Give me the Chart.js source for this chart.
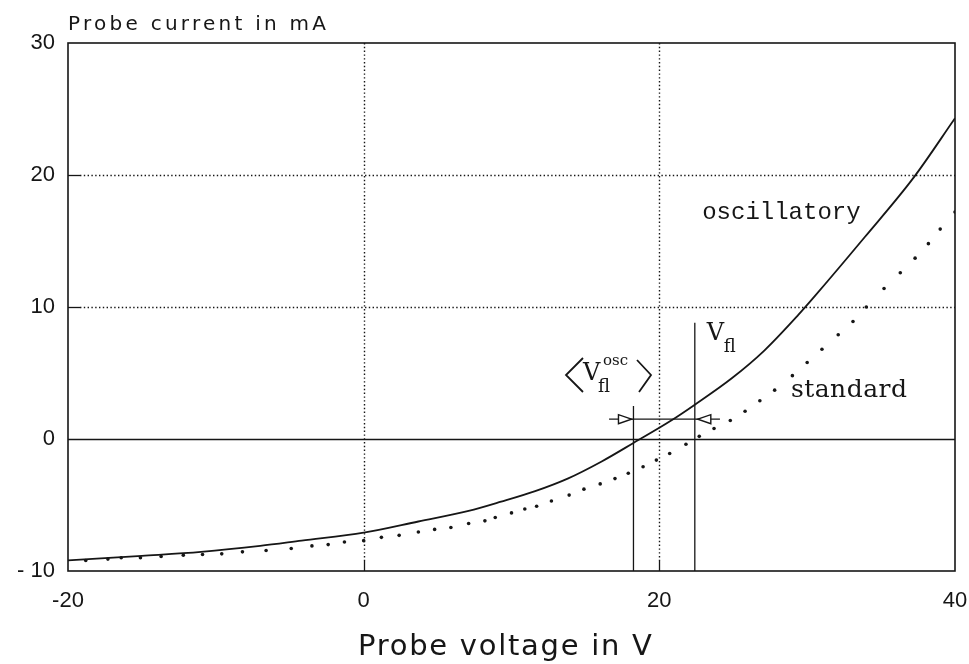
<!DOCTYPE html>
<html>
<head>
<meta charset="utf-8">
<script src="https://cdn.jsdelivr.net/npm/chart.js@4.4.1/dist/chart.umd.min.js"></script>
<style>
  html, body { margin: 0; padding: 0; background: #fff; }
  #wrap { width: 969px; height: 664px; position: relative; }
</style>
</head>
<body>
<div id="wrap"><canvas id="probeChart"></canvas></div>
<script>
// axis ticks
const xTicks = [-20, 0, 20, 40];
const xTickLabels = ['-20', '0', '20', '40'];
const yTicks = [-10, 0, 10, 20, 30];
const yTickLabels = ['- 10', '0', '10', '20', '30'];

// oscillatory probe characteristic (solid)
const oscX = [-20, -15, -11, -7, -4.2, 0, 3.7, 7.1, 9.3, 11.6, 13.8, 16.1, 18.25, 20.8, 22.4, 24.9, 27.1, 29.4, 30.5, 33.9, 37.2, 40];
const oscY = [-9.2, -8.85, -8.55, -8.1, -7.7, -7.1, -6.25, -5.45, -4.75, -3.95, -3.0, -1.7, -0.3, 1.4, 2.6, 4.6, 6.7, 9.4, 10.8, 15.3, 19.8, 24.3];

// standard probe characteristic (dotted)
const stdX = [-18.8, -17.3, -16.4, -15.1, -13.7, -12.2, -10.9, -9.6, -8.2, -6.6, -4.9, -3.5, -2.4, -1.3, 0.0, 1.2, 2.4, 3.7, 4.8, 5.9, 7.1, 8.2, 8.9, 10.0, 10.9, 11.7, 12.7, 13.9, 14.9, 16.0, 17.0, 17.9, 18.9, 19.8, 20.7, 21.8, 22.7, 23.7, 24.8, 25.8, 26.8, 27.8, 29.0, 30.0, 31.0, 32.1, 33.1, 34.0, 35.2, 36.3, 37.3, 38.2, 39.0, 40.0];
const stdY = [-9.2, -9.1, -9.0, -9.0, -8.9, -8.8, -8.75, -8.7, -8.55, -8.45, -8.3, -8.1, -8.0, -7.8, -7.7, -7.45, -7.3, -7.05, -6.85, -6.7, -6.4, -6.2, -5.95, -5.6, -5.3, -5.1, -4.7, -4.25, -3.8, -3.4, -3.0, -2.6, -2.1, -1.6, -1.1, -0.4, 0.2, 0.8, 1.4, 2.1, 2.9, 3.7, 4.8, 5.8, 6.8, 7.9, 8.9, 10.0, 11.4, 12.6, 13.7, 14.8, 15.9, 17.2];

// floating potentials and the arrow between them
const vflOsc = 18.25;
const vflOscTop = 2.5;
const vfl = 22.4;
const vflTop = 8.8;
const arrowY = 1.5;
const arrowFrom = 16.6;
const arrowTo = 24.1;

const ink = '#161616';
const sansFont = '"Liberation Sans", Arial, sans-serif';
const titleFont = '"DejaVu Sans", "Liberation Sans", sans-serif';

function toPoints(xs, ys) {
    return xs.map((x, i) => ({ x: x, y: ys[i] }));
}

// draw text stretched to a given width with letter spacing
function spacedText(ctx, text, x, y, width) {
    ctx.letterSpacing = '0px';
    const w = ctx.measureText(text).width;
    const gap = (width - w) / (text.length - 1);
    ctx.letterSpacing = gap.toFixed(2) + 'px';
    ctx.fillText(text, x, y);
    ctx.letterSpacing = '0px';
}

function arrowHead(ctx, tipX, y, dir) {
    // open triangle, dir = 1 points right, -1 points left
    const len = 13, half = 4.5;
    ctx.beginPath();
    ctx.moveTo(tipX, y);
    ctx.lineTo(tipX - dir * len, y - half);
    ctx.lineTo(tipX - dir * len, y + half);
    ctx.closePath();
    ctx.fillStyle = '#fff';
    ctx.fill();
    ctx.stroke();
}

const paperPlugin = {
    id: 'paper',
    beforeDatasetsDraw(chart) {
        const { ctx, chartArea: a, scales: { x, y } } = chart;
        ctx.save();
        ctx.strokeStyle = ink;
        // dotted grid
        ctx.lineWidth = 1.4;
        ctx.setLineDash([1.4, 2.4]);
        [0, 20].forEach(v => {
            const px = Math.round(x.getPixelForValue(v)) + 0.5;
            ctx.beginPath(); ctx.moveTo(px, a.top); ctx.lineTo(px, a.bottom - 10); ctx.stroke();
        });
        [10, 20].forEach(v => {
            const py = Math.round(y.getPixelForValue(v)) + 0.5;
            ctx.beginPath(); ctx.moveTo(a.left + 12, py); ctx.lineTo(a.right, py); ctx.stroke();
        });
        ctx.setLineDash([]);
        // inner tick marks
        ctx.lineWidth = 1.3;
        [0, 20].forEach(v => {
            const px = Math.round(x.getPixelForValue(v)) + 0.5;
            ctx.beginPath(); ctx.moveTo(px, a.bottom); ctx.lineTo(px, a.bottom - 10); ctx.stroke();
        });
        [10, 20].forEach(v => {
            const py = Math.round(y.getPixelForValue(v)) + 0.5;
            ctx.beginPath(); ctx.moveTo(a.left, py); ctx.lineTo(a.left + 12, py); ctx.stroke();
        });
        // zero line
        const y0 = Math.round(y.getPixelForValue(0)) + 0.5;
        ctx.lineWidth = 1.3;
        ctx.beginPath(); ctx.moveTo(a.left, y0); ctx.lineTo(a.right, y0); ctx.stroke();
        // frame
        ctx.lineWidth = 1.6;
        ctx.strokeRect(a.left, a.top, a.right - a.left, a.bottom - a.top);
        ctx.restore();
    },
    afterDatasetsDraw(chart) {
        const { ctx, chartArea: a, scales: { x, y } } = chart;
        ctx.save();
        ctx.fillStyle = ink;
        ctx.strokeStyle = ink;

        // arrow heads on the floating potential markers
        ctx.lineWidth = 1.4;
        const ay = y.getPixelForValue(arrowY);
        arrowHead(ctx, x.getPixelForValue(vflOsc) - 2, ay, 1);
        arrowHead(ctx, x.getPixelForValue(vfl) + 3, ay, -1);

        // axis titles
        ctx.fillStyle = ink;
        ctx.textBaseline = 'alphabetic';
        ctx.textAlign = 'left';
        ctx.font = '20px ' + titleFont;
        spacedText(ctx, 'Probe current in mA', a.left, 30, 258);
        ctx.font = '29px ' + titleFont;
        spacedText(ctx, 'Probe voltage in V', 358, 655, 294);

        // curve labels
        ctx.font = '24px "Liberation Mono", "Courier New", monospace';
        ctx.fillText('oscillatory', x.getPixelForValue(22.9), y.getPixelForValue(16.7));
        ctx.font = '25px "DejaVu Serif", serif';
        spacedText(ctx, 'standard', x.getPixelForValue(28.9), y.getPixelForValue(3.2), 116);

        // V_fl
        const vx = x.getPixelForValue(vfl) + 12;
        const vy = 340;
        ctx.font = '24px "DejaVu Serif", serif';
        ctx.fillText('V', vx, vy);
        ctx.font = '18px "DejaVu Serif", serif';
        ctx.fillText('fl', vx + 17, vy + 12);

        // <V_fl^osc>
        const ox = 583, oy = 380;
        ctx.font = '24px "DejaVu Serif", serif';
        ctx.fillText('V', ox, oy);
        ctx.font = '18px "DejaVu Serif", serif';
        ctx.fillText('fl', ox + 15, oy + 12);
        ctx.font = '15px "DejaVu Serif", serif';
        ctx.fillText('osc', ox + 20, oy - 15);
        ctx.lineWidth = 1.8;
        ctx.beginPath();
        ctx.moveTo(ox, oy - 22); ctx.lineTo(ox - 17, oy - 5); ctx.lineTo(ox, oy + 12);
        ctx.stroke();
        ctx.beginPath();
        ctx.moveTo(ox + 54, oy - 20); ctx.lineTo(ox + 68, oy - 5); ctx.lineTo(ox + 56, oy + 12);
        ctx.stroke();
        ctx.restore();
    }
};

const lineStyle = { showLine: true, pointRadius: 0, borderColor: ink, fill: false };

new Chart(document.getElementById('probeChart'), {
    type: 'scatter',
    data: {
        datasets: [
            Object.assign({ data: toPoints(oscX, oscY), borderWidth: 1.8, cubicInterpolationMode: 'monotone' }, lineStyle),
            { data: toPoints(stdX, stdY), showLine: false, pointRadius: 1.8, pointBorderWidth: 0, backgroundColor: ink },
            Object.assign({ data: [{ x: vflOsc, y: -10 }, { x: vflOsc, y: vflOscTop }], borderWidth: 1.3 }, lineStyle),
            Object.assign({ data: [{ x: vfl, y: -10 }, { x: vfl, y: vflTop }], borderWidth: 1.3 }, lineStyle),
            Object.assign({ data: [{ x: arrowFrom, y: arrowY }, { x: arrowTo, y: arrowY }], borderWidth: 1.2 }, lineStyle)
        ]
    },
    options: {
        responsive: true,
        maintainAspectRatio: false,
        animation: false,
        layout: { padding: { top: 43, right: 0, left: 0, bottom: 0 } },
        plugins: { legend: { display: false }, tooltip: { enabled: false } },
        scales: {
            x: {
                type: 'linear', min: -20, max: 40,
                afterBuildTicks: (s) => { s.ticks = xTicks.map(v => ({ value: v })); },
                afterFit: (s) => { s.height = 93; s.paddingRight = 14; },
                grid: { display: false, drawTicks: false },
                border: { display: false },
                ticks: {
                    padding: 17, color: ink, maxRotation: 0, autoSkip: false,
                    font: { family: sansFont, size: 22 },
                    callback: (v, i) => xTickLabels[i]
                }
            },
            y: {
                type: 'linear', min: -10, max: 30,
                afterBuildTicks: (s) => { s.ticks = yTicks.map(v => ({ value: v })); },
                afterFit: (s) => { s.width = 68; },
                grid: { display: false, drawTicks: false },
                border: { display: false },
                ticks: {
                    padding: 13, color: ink, autoSkip: false,
                    font: { family: sansFont, size: 22 },
                    callback: (v, i) => yTickLabels[i]
                }
            }
        }
    },
    plugins: [paperPlugin]
});
</script>
</body>
</html>
